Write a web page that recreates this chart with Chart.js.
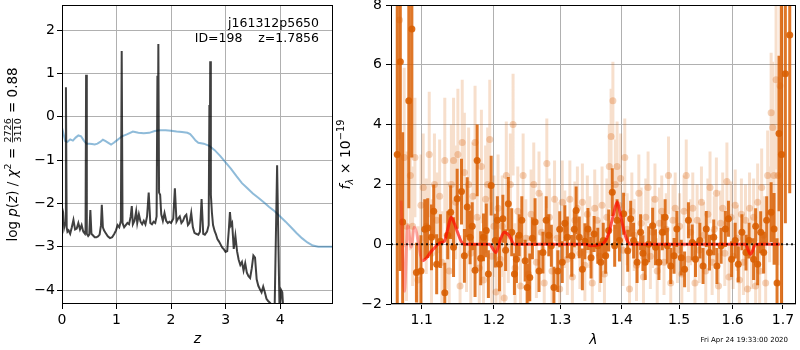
<!DOCTYPE html>
<html>
<head>
<meta charset="utf-8">
<script src="https://cdn.jsdelivr.net/npm/chart.js@4.4.0/dist/chart.umd.min.js"></script>
<style>
  body { margin: 0; background: #fff; }
  #wrap { position: relative; width: 800px; height: 350px; }
  canvas { position: absolute; top: 0; }
</style>
</head>
<body>
<div id="wrap">
  <canvas id="pz" width="340" height="350" style="left:0"></canvas>
  <canvas id="spec" width="465" height="350" style="left:335px"></canvas>
</div>
<script>
// ---- left panel: redshift PDF ----
const zTicks = [0, 1, 2, 3, 4];
const pzTicks = [-4, -3, -2, -1, 0, 1, 2];

const zPz = [0.000,0.020,0.040,0.058,0.072,0.086,0.10,0.12,0.15,0.18,
  0.21,0.24,0.27,0.30,0.33,0.36,0.39,0.42,0.432,0.442,
  0.455,0.48,0.50,0.52,0.54,0.57,0.60,0.63,0.66,0.69,
  0.715,0.73,0.75,0.77,0.80,0.84,0.88,0.92,0.96,0.99,
  1.02,1.05,1.08,1.095,1.11,1.14,1.17,1.20,1.23,1.26,
  1.28,1.30,1.33,1.36,1.38,1.41,1.44,1.47,1.50,1.53,
  1.56,1.59,1.62,1.65,1.68,1.71,1.735,1.75,1.757,1.767,
  1.78,1.80,1.82,1.85,1.88,1.91,1.94,1.97,2.00,2.04,
  2.07,2.10,2.13,2.16,2.19,2.22,2.25,2.28,2.31,2.34,
  2.37,2.40,2.43,2.46,2.50,2.53,2.56,2.59,2.62,2.66,
  2.69,2.703,2.710,2.718,2.73,2.75,2.77,2.80,2.82,2.85,
  2.88,2.91,2.94,2.97,3.00,3.03,3.06,3.08,3.10,3.12,
  3.15,3.18,3.21,3.24,3.27,3.30,3.33,3.36,3.39,3.42,
  3.45,3.48,3.51,3.54,3.57,3.60,3.63,3.66,3.69,3.72,
  3.75,3.78,3.82,3.86,3.90,3.945,3.99,4.02,4.04,4.06,4.10];
const logPz = [-2.10,-2.20,-2.55,-2.45,0.68,-2.55,-2.65,-2.62,-2.70,-2.55,
  -2.38,-2.60,-2.58,-2.45,-2.60,-2.50,-2.65,-2.70,-2.60,0.97,
  -2.70,-2.75,-2.72,-2.15,-2.70,-2.74,-2.78,-2.78,-2.76,-2.72,
  -2.50,-2.03,-2.55,-2.62,-2.68,-2.76,-2.80,-2.78,-2.70,-2.62,
  -2.50,-2.55,-2.40,1.52,-2.45,-2.55,-2.50,-2.45,-2.48,-2.30,
  -2.06,-2.48,-2.40,-2.18,-2.45,-2.25,-2.42,-2.48,-2.40,-2.48,
  -2.30,-1.75,-2.45,-2.48,-2.42,-2.45,-2.30,0.95,-1.00,1.68,
  -1.75,-1.80,-2.25,-2.40,-2.22,-2.40,-2.45,-2.42,-2.45,-2.35,
  -1.65,-2.42,-2.35,-2.30,-2.45,-2.40,-2.30,-2.26,-2.50,-2.45,
  -2.22,-2.55,-2.68,-2.70,-2.72,-2.65,-1.90,-2.70,-2.72,-2.65,
  -2.50,0.27,-1.50,1.28,-1.80,-2.22,-2.50,-2.64,-2.70,-2.82,
  -2.88,-2.95,-3.02,-3.06,-3.12,-3.10,-2.60,-2.20,-2.50,-2.45,
  -3.05,-2.75,-3.10,-3.30,-3.42,-3.35,-3.55,-3.38,-3.60,-3.68,
  -3.72,-3.50,-3.20,-3.25,-3.75,-3.90,-3.98,-4.05,-3.92,-4.05,
  -4.20,-4.25,-4.30,-4.40,-4.40,-1.12,-4.50,-4.00,-4.05,-4.50,-5.00];

const zChi = [0.00,0.03,0.06,0.10,0.15,0.20,0.25,0.30,0.35,0.40,
  0.45,0.50,0.55,0.60,0.65,0.70,0.75,0.80,0.85,0.90,
  0.95,1.00,1.05,1.10,1.20,1.30,1.40,1.50,1.60,1.70,
  1.80,1.90,2.00,2.10,2.20,2.30,2.35,2.40,2.45,2.50,
  2.60,2.70,2.80,2.90,3.00,3.10,3.20,3.30,3.40,3.50,
  3.60,3.70,3.80,3.90,4.00,4.10,4.20,4.30,4.40,4.50,
  4.60,4.70,4.80,4.97];
const chiCurve = [-0.25,-0.40,-0.56,-0.58,-0.52,-0.55,-0.48,-0.43,-0.45,-0.55,
  -0.62,-0.62,-0.63,-0.64,-0.62,-0.58,-0.53,-0.56,-0.60,-0.64,
  -0.60,-0.55,-0.50,-0.45,-0.40,-0.34,-0.37,-0.38,-0.37,-0.33,
  -0.31,-0.31,-0.32,-0.34,-0.35,-0.37,-0.40,-0.47,-0.55,-0.60,
  -0.62,-0.67,-0.77,-0.90,-1.05,-1.20,-1.37,-1.53,-1.65,-1.77,
  -1.87,-1.97,-2.08,-2.18,-2.30,-2.42,-2.55,-2.68,-2.80,-2.90,
  -2.97,-3.00,-3.00,-3.00];

// ---- right panel: spectrum ----
const lamTicks = [1.1, 1.2, 1.3, 1.4, 1.5, 1.6, 1.7];
const fluxTicks = [-2, 0, 2, 4, 6, 8];
const lamMin = 1.06, lamMax = 1.727;

const darkWave = [1.068,1.072,1.075,1.083,1.087,1.093,1.099,1.104,1.108,1.113,
  1.116,1.120,1.125,1.131,1.135,1.139,1.143,1.148,1.154,1.158,
  1.162,1.166,1.169,1.173,1.176,1.181,1.185,1.189,1.192,1.196,
  1.202,1.205,1.208,1.213,1.217,1.221,1.226,1.230,1.233,1.237,
  1.241,1.246,1.249,1.253,1.257,1.261,1.267,1.273,1.278,1.282,
  1.286,1.290,1.296,1.299,1.303,1.307,1.311,1.318,1.322,1.325,
  1.330,1.335,1.339,1.344,1.349,1.354,1.360,1.365,1.369,1.373,
  1.378,1.384,1.388,1.392,1.396,1.403,1.410,1.415,1.420,1.426,
  1.432,1.436,1.440,1.446,1.453,1.458,1.464,1.470,1.475,1.479,
  1.485,1.491,1.496,1.504,1.510,1.517,1.524,1.530,1.538,1.544,
  1.550,1.556,1.564,1.570,1.578,1.586,1.592,1.598,1.605,1.611,
  1.618,1.626,1.632,1.641,1.645,1.649,1.655,1.661,1.667,1.676,
  1.682,1.688,1.692,1.697,1.705,1.714];
const darkFlux = [3.0,6.1,0.74,4.8,7.2,-0.95,-0.9,0.5,0.54,0.23,
  1.1,-0.67,0.1,-1.62,0.3,1.07,-0.1,1.52,1.76,-0.39,
  1.24,0.23,0.6,-0.87,2.8,-0.47,0.23,0.46,-1.0,1.96,
  0.12,0.8,-0.67,0.85,-0.2,1.35,0.4,-1.0,-0.5,0.3,
  0.8,-0.55,-1.45,-1.11,0.2,0.74,-0.9,-0.28,0.8,0.3,
  -0.05,-1.45,-0.9,0.5,-0.6,0.7,0.23,-0.39,0.5,1.13,
  0.23,-0.84,0.1,0.51,-0.45,0.34,-0.05,-0.6,0.12,-0.39,
  0.46,1.74,-0.05,0.8,0.12,1.02,-0.22,0.85,0.12,-0.6,
  0.4,-0.3,-0.6,0.0,0.62,-0.1,-0.6,0.4,0.9,-0.05,
  -0.73,-0.39,0.51,-0.45,-0.84,0.8,0.06,-0.5,0.12,-0.73,
  0.51,-0.28,0.23,-0.73,-0.05,0.51,0.85,-0.5,0.12,-0.67,
  0.4,-0.28,0.12,-0.5,0.6,-0.67,0.4,-0.28,0.8,1.07,
  0.51,-1.3,3.7,3.0,5.7,7.0];
const darkErr = [10,7,3,3.6,4.3,1.0,1.2,1.0,1.0,1.1,
  0.9,1.0,0.9,1.0,0.8,0.9,1.0,1.0,1.1,0.9,
  1.0,0.9,0.8,0.9,1.2,0.9,0.8,0.9,0.8,1.0,
  0.9,0.8,0.9,0.8,0.7,0.9,0.8,0.7,0.8,0.7,
  0.8,0.7,0.8,0.8,0.7,0.8,0.7,0.7,0.8,0.7,
  0.7,0.7,0.7,0.6,0.7,0.6,0.7,0.7,0.6,0.8,
  0.7,0.7,0.6,0.7,0.7,0.6,0.6,0.7,0.6,0.6,
  0.7,0.8,0.7,0.7,0.7,0.7,0.7,0.6,0.6,0.7,
  0.6,0.6,0.6,0.6,0.6,0.6,0.6,0.6,0.6,0.6,
  0.6,0.6,0.6,0.6,0.6,0.6,0.6,0.6,0.6,0.6,
  0.6,0.6,0.6,0.6,0.6,0.6,0.6,0.6,0.6,0.6,
  0.6,0.6,0.6,0.7,0.6,0.7,0.7,0.7,0.8,1.0,
  1.2,1.5,2.6,6.0,5.0,5.3];

const lightWave = [1.071,1.077,1.080,1.085,1.088,1.091,1.095,1.099,1.102,1.106,
  1.110,1.113,1.117,1.120,1.124,1.127,1.131,1.134,1.137,1.140,
  1.143,1.146,1.149,1.152,1.155,1.158,1.161,1.164,1.167,1.170,
  1.173,1.176,1.179,1.182,1.185,1.188,1.191,1.194,1.197,1.200,
  1.203,1.206,1.209,1.212,1.215,1.218,1.221,1.224,1.228,1.231,
  1.235,1.239,1.243,1.247,1.251,1.255,1.259,1.263,1.267,1.271,
  1.275,1.279,1.283,1.287,1.291,1.295,1.299,1.303,1.307,1.311,
  1.315,1.319,1.323,1.327,1.331,1.335,1.339,1.343,1.347,1.351,
  1.355,1.359,1.363,1.367,1.371,1.375,1.379,1.382,1.385,1.389,
  1.392,1.395,1.398,1.402,1.405,1.409,1.413,1.417,1.421,1.425,
  1.429,1.433,1.437,1.441,1.445,1.449,1.453,1.457,1.461,1.465,
  1.469,1.473,1.477,1.481,1.485,1.489,1.493,1.497,1.501,1.505,
  1.509,1.513,1.517,1.521,1.525,1.529,1.533,1.537,1.541,1.545,
  1.549,1.553,1.557,1.561,1.565,1.569,1.573,1.577,1.581,1.585,
  1.589,1.593,1.597,1.601,1.605,1.609,1.613,1.617,1.621,1.625,
  1.629,1.633,1.637,1.641,1.645,1.649,1.653,1.657,1.661,1.665,
  1.669,1.673,1.676,1.679,1.682,1.686,1.690,1.694,1.698];
const lightFlux = [7.5,2.9,0.6,2.3,0.6,2.9,-1.2,1.3,1.9,0.6,
  3.0,-0.3,2.0,0.8,1.6,-0.6,2.8,0.3,-0.9,2.0,
  2.8,1.4,3.0,-1.4,3.4,2.4,0.2,2.0,-0.3,1.6,
  3.4,0.9,-0.8,2.6,-1.2,1.5,2.0,3.5,-0.4,0.6,
  -1.6,1.2,-0.5,0.6,-1.8,2.3,0.3,2.0,4.0,-0.8,
  1.1,-1.4,2.3,0.2,-1.0,1.0,2.0,-0.6,1.7,0.4,
  -1.3,2.7,0.9,-0.9,1.5,0.2,-1.5,1.4,0.5,-0.5,
  1.5,-1.1,0.8,1.2,-0.3,1.4,-0.7,1.0,0.4,-1.3,
  1.2,0.8,-0.4,1.3,-1.0,0.9,2.6,3.6,4.8,2.0,
  2.6,1.3,2.2,-0.2,2.9,0.5,-1.5,1.1,0.3,-0.7,
  1.7,0.7,-1.1,0.9,1.9,-0.4,0.4,1.5,-0.9,0.7,
  1.1,-0.6,0.5,2.3,-1.3,0.8,1.2,-0.2,0.6,-1.0,
  1.1,2.3,-0.5,0.4,1.2,-1.3,0.8,-0.2,1.4,0.3,
  -0.9,1.0,1.9,-0.6,0.5,1.7,-1.4,0.7,1.2,-0.3,
  2.1,-1.1,0.9,-0.4,1.3,0.2,-1.2,1.0,-0.6,0.8,
  -1.5,1.2,-0.3,0.9,-1.4,1.4,-0.9,1.9,0.3,-1.3,
  2.3,1.0,4.4,3.9,2.3,5.5,2.3,5.3,3.0];
const lightErr = [4,3,2.5,2.5,2.0,2.0,1.8,1.7,1.8,1.6,
  2.1,1.8,1.7,1.6,1.9,1.7,2.1,1.8,1.6,2.0,
  2.1,1.9,2.2,1.7,2.1,2.0,1.8,1.9,1.8,1.8,
  1.9,1.8,1.7,1.9,1.6,1.8,1.9,2.0,1.8,1.7,
  1.6,1.8,1.6,1.7,1.5,1.8,1.6,1.7,1.7,1.5,
  1.5,1.3,1.4,1.3,1.3,1.5,1.4,1.2,1.4,1.3,
  1.2,1.5,1.3,1.2,1.3,1.2,1.3,1.4,1.3,1.2,
  1.3,1.2,1.3,1.4,1.2,1.3,1.2,1.3,1.2,1.2,
  1.3,1.2,1.2,1.3,1.2,1.3,1.4,1.6,1.3,1.5,
  1.5,1.3,1.5,1.2,1.3,1.2,1.2,1.3,1.2,1.2,
  1.3,1.2,1.2,1.3,1.2,1.1,1.2,1.2,1.1,1.2,
  1.2,1.1,1.2,1.3,1.1,1.2,1.2,1.1,1.1,1.1,
  1.2,1.2,1.1,1.1,1.2,1.1,1.2,1.1,1.2,1.1,
  1.1,1.2,1.2,1.1,1.1,1.2,1.1,1.1,1.2,1.1,
  1.3,1.1,1.2,1.1,1.2,1.1,1.1,1.2,1.1,1.2,
  1.2,1.2,1.2,1.3,1.2,1.3,1.2,1.3,1.3,1.3,
  1.5,1.6,2.0,2.2,2.2,3.0,3.0,4.0,5.0];

const modelWave = [1.0731,1.0773,1.0816,1.0860,1.0903,1.1013,1.1142,1.1250,1.1304,1.1350,
  1.1396,1.1440,1.1486,1.1530,1.1579,1.1932,1.2029,1.2100,1.2150,1.2223,
  1.2297,1.3400,1.3485,1.3600,1.3702,1.3780,1.3860,1.3923,1.3980,1.4036,
  1.4100,1.4142,1.6200,1.6249,1.6347,1.6444,1.6500,1.6934];
const modelFlux = [1.46,-1.57,0.62,-0.1,0.57,-0.55,-0.2,0.05,0.1,0.5,
  0.9,0.7,0.4,0.12,0.0,0.0,-0.28,0.2,0.4,0.28,
  0.0,0.0,-0.05,-0.03,0.05,0.35,1.0,1.41,0.95,0.45,
  0.08,0.0,0.0,0.0,-0.34,-0.02,0.0,0.0];

// ---- helpers ----
const FAM = "'DejaVu Sans'";
Chart.defaults.font.family = FAM;
Chart.defaults.font.size = 14;
Chart.defaults.color = '#000';

const pts = (xs, ys) => xs.map((x, i) => ({ x, y: ys[i] }));
const errSegs = (xs, ys, es) => {
  const out = [];
  xs.forEach((x, i) => { out.push({ x, y: ys[i] - es[i] }, { x, y: ys[i] + es[i] }, { x, y: null }); });
  return out;
};
const minus = v => (v < 0 ? '\u2212' + Math.abs(v) : String(v));
const fixTicks = list => scale => { scale.ticks = list.map(v => ({ value: v })); };
// fixed axis box, no extra room for half labels
const fitBox = (w, h) => s => {
  if (w) s.width = w;
  if (h) s.height = h;
  s.paddingTop = s.paddingBottom = s.paddingLeft = s.paddingRight = 0;
};

function drawRich(ctx, parts, cx, cy, rotate) {
  ctx.save();
  ctx.translate(cx, cy);
  if (rotate) ctx.rotate(-Math.PI / 2);
  let w = 0;
  parts.forEach(p => {
    ctx.font = p.font;
    p.w = p.frac ? Math.max(ctx.measureText(p.frac[0]).width, ctx.measureText(p.frac[1]).width) + 2
                 : ctx.measureText(p.t).width;
    w += p.w;
  });
  let x = -w / 2;
  ctx.fillStyle = '#000';
  ctx.textBaseline = 'alphabetic';
  parts.forEach(p => {
    ctx.font = p.font;
    if (p.frac) {
      ctx.textAlign = 'center';
      ctx.fillText(p.frac[0], x + p.w / 2, -6.2);
      ctx.fillText(p.frac[1], x + p.w / 2, 4.2);
      ctx.fillRect(x + 1, -5, p.w - 2, 0.8);
    } else {
      ctx.textAlign = 'left';
      ctx.fillText(p.t, x, p.dy || 0);
    }
    x += p.w;
  });
  ctx.restore();
}

function frameBox(chart) {
  const a = chart.chartArea, ctx = chart.ctx;
  ctx.save();
  ctx.strokeStyle = '#000';
  ctx.lineWidth = 1;
  ctx.strokeRect(Math.round(a.left) + 0.5, Math.round(a.top) + 0.5,
                 Math.round(a.right - a.left) - 1, Math.round(a.bottom - a.top) - 1);
  ctx.restore();
}

const gridStyle = { color: '#b0b0b0', lineWidth: 1, tickColor: '#000', tickLength: 5 };

// ---- left chart ----
new Chart(document.getElementById('pz'), {
  type: 'line',
  data: {
    datasets: [
      { data: pts(zPz, logPz), borderColor: 'rgba(0,0,0,0.75)', borderWidth: 2,
        pointRadius: 0, tension: 0, order: 0, clip: 0 },
      { data: pts(zChi, chiCurve), borderColor: 'rgba(31,119,180,0.5)', borderWidth: 2,
        pointRadius: 0, tension: 0, order: 1, clip: 0 }
    ]
  },
  options: {
    responsive: false, animation: false, devicePixelRatio: 1,
    layout: { padding: { top: 5, right: 7, left: 0, bottom: 0 } },
    plugins: { legend: { display: false }, tooltip: { enabled: false } },
    scales: {
      x: {
        type: 'linear', min: 0, max: 4.97,
        afterBuildTicks: fixTicks(zTicks),
        afterFit: fitBox(0, 46),
        grid: gridStyle, border: { display: false },
        ticks: { padding: 3, maxRotation: 0, autoSkip: false, callback: v => minus(v) }
      },
      y: {
        type: 'linear', min: -4.32, max: 2.58,
        afterBuildTicks: fixTicks(pzTicks),
        afterFit: fitBox(62, 0),
        grid: gridStyle, border: { display: false },
        ticks: { padding: 2, autoSkip: false, callback: v => minus(v) }
      }
    }
  },
  plugins: [{
    id: 'pzDecor',
    afterDraw(chart) {
      const a = chart.chartArea, ctx = chart.ctx;
      frameBox(chart);
      ctx.save();
      ctx.fillStyle = '#000';
      ctx.textAlign = 'right';
      ctx.textBaseline = 'alphabetic';
      ctx.font = "12.5px " + FAM;
      ctx.fillText('j161312p5650', 319, 27);
      ctx.fillText('ID=198    z=1.7856', 319, 42);
      ctx.textAlign = 'center';
      ctx.font = "italic 14px " + FAM;
      ctx.fillText('z', (a.left + a.right) / 2, 343);
      ctx.restore();
      const F = "13.5px " + FAM, I = "italic 13.5px " + FAM, S = "9.5px " + FAM;
      drawRich(ctx, [
        { t: 'log ', font: F }, { t: 'p', font: I }, { t: '(', font: F }, { t: 'z', font: I },
        { t: ')', font: F }, { t: ' / ', font: F }, { t: '\u03c7', font: I },
        { t: '2', font: S, dy: -6 }, { t: ' = ', font: F },
        { frac: ['2726', '3110'], font: S }, { t: ' = 0.88', font: F }
      ], 17, (a.top + a.bottom) / 2, true);
    }
  }]
});

// ---- right chart ----
const dark = 'rgba(217,95,2,0.85)';
const light = 'rgba(217,95,2,0.2)';

new Chart(document.getElementById('spec'), {
  type: 'line',
  data: {
    datasets: [
      { data: errSegs(lightWave, lightFlux, lightErr), borderColor: light, borderWidth: 3,
        borderCapStyle: 'butt', pointRadius: 0, spanGaps: false, order: 5, clip: 0 },
      { data: pts(lightWave, lightFlux), showLine: false, pointRadius: 3.5, borderWidth: 0,
        pointBackgroundColor: 'rgba(217,95,2,0.28)', order: 4, clip: 0 },
      { data: errSegs(darkWave, darkFlux, darkErr), borderColor: dark, borderWidth: 3,
        borderCapStyle: 'butt', pointRadius: 0, spanGaps: false, order: 3, clip: 0 },
      { data: pts(darkWave, darkFlux), showLine: false, pointRadius: 3.5, borderWidth: 0,
        pointBackgroundColor: 'rgba(217,95,2,0.9)', order: 2, clip: 0 },
      { data: pts(modelWave, modelFlux), borderColor: 'rgba(255,10,0,0.7)', borderWidth: 3,
        pointRadius: 0, cubicInterpolationMode: 'monotone', order: 1, clip: 0,
        segment: { borderColor: c => (c.p0.parsed.x < 1.095 ? 'rgba(255,30,30,0.35)' : undefined) } },
      { data: [{ x: lamMin, y: 0 }, { x: lamMax, y: 0 }], borderColor: 'rgba(0,0,0,0.85)',
        borderWidth: 2, borderDash: [2, 3], pointRadius: 0, order: 0, clip: 0 }
    ]
  },
  options: {
    responsive: false, animation: false, devicePixelRatio: 1,
    layout: { padding: { top: 5, right: 1, left: 0, bottom: 0 } },
    plugins: { legend: { display: false }, tooltip: { enabled: false } },
    scales: {
      x: {
        type: 'logarithmic', min: lamMin, max: lamMax,
        afterBuildTicks: fixTicks(lamTicks),
        afterFit: fitBox(0, 46),
        grid: gridStyle, border: { display: false },
        ticks: { padding: 3, maxRotation: 0, autoSkip: false, callback: v => Number(v).toFixed(1) }
      },
      y: {
        type: 'linear', min: -2, max: 8,
        afterBuildTicks: fixTicks(fluxTicks),
        afterFit: fitBox(56, 0),
        grid: gridStyle, border: { display: false },
        ticks: { padding: 4, autoSkip: false, callback: v => minus(v) }
      }
    }
  },
  plugins: [{
    id: 'specDecor',
    afterDraw(chart) {
      const a = chart.chartArea, ctx = chart.ctx;
      frameBox(chart);
      ctx.save();
      ctx.fillStyle = '#000';
      ctx.textAlign = 'center';
      ctx.textBaseline = 'alphabetic';
      ctx.font = "italic 14px " + FAM;
      ctx.fillText('\u03bb', (a.left + a.right) / 2, 344);
      ctx.textAlign = 'right';
      ctx.font = "7px " + FAM;
      ctx.fillText('Fri Apr 24 19:33:00 2020', 453, 342);
      ctx.restore();
      drawRich(ctx, [
        { t: 'f', font: "italic 14px " + FAM }, { t: '\u03bb', font: "italic 9.8px " + FAM, dy: 3 },
        { t: ' \u00d7 10', font: "14px " + FAM }, { t: '\u221219', font: "9.8px " + FAM, dy: -6 }
      ], 15, (a.top + a.bottom) / 2, true);
    }
  }]
});
</script>
</body>
</html>
